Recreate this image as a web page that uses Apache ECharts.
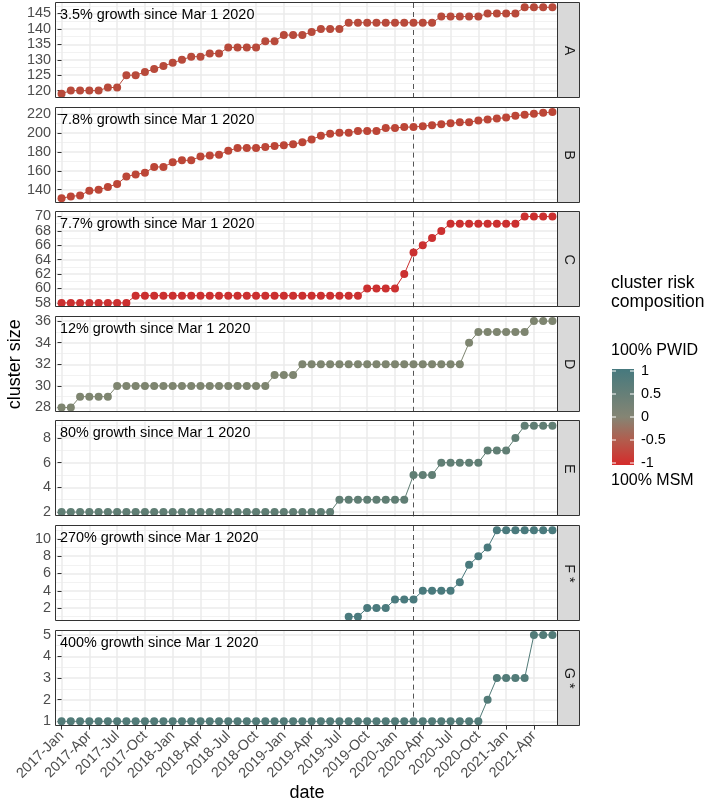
<!DOCTYPE html>
<html><head><meta charset="utf-8">
<script src="https://cdn.jsdelivr.net/npm/echarts@6/dist/echarts.min.js"></script>
<style>html,body{margin:0;padding:0;background:#fff}#c{width:708px;height:806px}</style>
</head><body><div id="c"></div>
<script>
// ---------------- DATA ----------------
const months = ['2017-Jan','2017-Feb','2017-Mar','2017-Apr','2017-May','2017-Jun','2017-Jul','2017-Aug','2017-Sep','2017-Oct','2017-Nov','2017-Dec',
'2018-Jan','2018-Feb','2018-Mar','2018-Apr','2018-May','2018-Jun','2018-Jul','2018-Aug','2018-Sep','2018-Oct','2018-Nov','2018-Dec',
'2019-Jan','2019-Feb','2019-Mar','2019-Apr','2019-May','2019-Jun','2019-Jul','2019-Aug','2019-Sep','2019-Oct','2019-Nov','2019-Dec',
'2020-Jan','2020-Feb','2020-Mar','2020-Apr','2020-May','2020-Jun','2020-Jul','2020-Aug','2020-Sep','2020-Oct','2020-Nov','2020-Dec',
'2021-Jan','2021-Feb','2021-Mar','2021-Apr','2021-May','2021-Jun'];
const xTickLabels = ['2017-Jan','2017-Apr','2017-Jul','2017-Oct','2018-Jan','2018-Apr','2018-Jul','2018-Oct','2019-Jan','2019-Apr','2019-Jul','2019-Oct','2020-Jan','2020-Apr','2020-Jul','2020-Oct','2021-Jan','2021-Apr'];
const referenceMonth = '2020-Mar';

const clusterA = [119,120,120,120,120,121,121,125,125,126,127,128,129,130,131,131,132,132,134,134,134,134,136,136,138,138,138,139,140,140,140,142,142,
142,142,142,142,142,142,142,142,144,144,144,144,144,145,145,145,145,147,147,147,147];
const clusterB = [131,133,134,139,140,143,146,154,156,158,164,164,169,171,171,175,176,177,181,184,184,184,185,186,187,188,190,193,197,199,200,200,202,
202,202,205,205,206,206,207,208,209,210,211,211,213,214,215,216,218,219,220,221,222];
const clusterC = [58,58,58,58,58,58,58,58,59,59,59,59,59,59,59,59,59,59,59,59,59,59,59,59,59,59,59,59,59,59,59,59,59,
60,60,60,60,62,65,66,67,68,69,69,69,69,69,69,69,69,70,70,70,70];
const clusterD = [28,28,29,29,29,29,30,30,30,30,30,30,30,30,30,30,30,30,30,30,30,30,30,31,31,31,32,32,32,32,32,32,32,
32,32,32,32,32,32,32,32,32,32,32,34,35,35,35,35,35,35,36,36,36];
const clusterE = [2,2,2,2,2,2,2,2,2,2,2,2,2,2,2,2,2,2,2,2,2,2,2,2,2,2,2,2,2,2,3,3,3,
3,3,3,3,3,5,5,5,6,6,6,6,6,7,7,7,8,9,9,9,9];
const clusterF = [null,null,null,null,null,null,null,null,null,null,null,null,null,null,null,null,null,null,null,null,null,null,null,null,null,null,null,null,null,null,null,1,1,
2,2,2,3,3,3,4,4,4,4,5,7,8,9,11,11,11,11,11,11,11];
const clusterG = [1,1,1,1,1,1,1,1,1,1,1,1,1,1,1,1,1,1,1,1,1,1,1,1,1,1,1,1,1,1,1,1,1,
1,1,1,1,1,1,1,1,1,1,1,1,1,2,3,3,3,3,5,5,5];

const panelNames = ['A','B','C','D','E','F *','G *'];
const growthText = ['3.5% growth since Mar 1 2020','7.8% growth since Mar 1 2020','7.7% growth since Mar 1 2020',
  '12% growth since Mar 1 2020','80% growth since Mar 1 2020','270% growth since Mar 1 2020','400% growth since Mar 1 2020'];
const yTicksA = [120,125,130,135,140,145];
const yTicksB = [140,160,180,200,220];
const yTicksC = [58,60,62,64,66,68,70];
const yTicksD = [28,30,32,34,36];
const yTicksE = [2,4,6,8];
const yTicksF = [2,4,6,8,10];
const yTicksG = [1,2,3,4,5];
const legendTicks = [1,0.5,0,-0.5,-1];
const legendTickLabels = ['1','0.5','0','-0.5','-1'];

// ---------------- STYLE / LAYOUT ----------------
const seriesColors = ['#B84A3B','#BC4637','#CB3030','#7E8570','#607E74','#4A7A7D','#527B78'];
const FONT = '"Liberation Sans", Arial, sans-serif';
const plotLeft = 56, plotRight = 558, stripW = 22;
const top0 = 3, pitch = 104.6, ph = 95;
const N = 7;

const allSeries = [clusterA,clusterB,clusterC,clusterD,clusterE,clusterF,clusterG];
const allTicks = [yTicksA,yTicksB,yTicksC,yTicksD,yTicksE,yTicksF,yTicksG];
const xTickIdx = xTickLabels.map(l => months.indexOf(l));
const refIdx = months.indexOf(referenceMonth);
const xMin = -0.6, xMax = months.length - 1 + 0.6;

const grids = [], xAxes = [], yAxes = [], series = [], titles = [], graphics = [];
const minorGrids = [], minorX = [], minorY = [];
allSeries.forEach((arr, i) => {
  const top = top0 + i * pitch;
  const vals = arr.filter(v => v != null);
  const lo = Math.min(...vals), hi = Math.max(...vals), pad = (hi - lo) * 0.05;
  const yMin = lo - pad, yMax = hi + pad;
  const ticks = allTicks[i];
  const step = ticks[1] - ticks[0];
  const minor = ticks.map(v => v - step / 2).concat([ticks[ticks.length - 1] + step / 2]).filter(v => v > yMin && v < yMax);
  const gbox = {left: plotLeft, top: top, width: plotRight - plotLeft, height: ph};
  grids.push(Object.assign({show: false}, gbox));
  minorGrids.push(Object.assign({show: false}, gbox));
  const bottom = i === N - 1;
  xAxes.push({type: 'value', gridIndex: i, min: xMin, max: xMax,
    axisLine: {show: false},
    axisTick: {show: bottom, customValues: xTickIdx, length: 4, lineStyle: {color: '#333333', width: 1}},
    axisLabel: {show: bottom, customValues: xTickIdx, rotate: 45, margin: 8, fontSize: 14.4, color: '#4D4D4D', fontFamily: FONT,
      formatter: v => months[Math.round(v)]},
    splitLine: {show: true, lineStyle: {color: '#EBEBEB', width: 1.5}}});
  yAxes.push({type: 'value', gridIndex: i, min: yMin, max: yMax,
    axisLine: {show: false},
    axisTick: {show: true, customValues: ticks, length: 4, lineStyle: {color: '#333333', width: 1}},
    axisLabel: {show: true, customValues: ticks, margin: 5, fontSize: 14.4, color: '#4D4D4D', fontFamily: FONT},
    splitLine: {show: true, lineStyle: {color: '#EBEBEB', width: 1.5}}});
  minorX.push({type: 'value', gridIndex: N + i, min: xMin, max: xMax, show: false});
  minorY.push({type: 'value', gridIndex: N + i, min: yMin, max: yMax,
    axisLine: {show: false},
    axisTick: {show: false, customValues: minor},
    axisLabel: {show: false, customValues: minor},
    splitLine: {show: true, lineStyle: {color: '#EFEFEF', width: 0.8}}});
  // reference (Mar 1 2020) dashed vertical line, spanning the panel's y range
  series.push({type: 'line', xAxisIndex: i, yAxisIndex: i, z: 1,
    data: [[refIdx, yMin], [refIdx, yMax]], symbol: 'none', silent: true, animation: false,
    lineStyle: {type: [5, 4], color: '#555555', width: 1}});
  series.push({type: 'line', xAxisIndex: i, yAxisIndex: i, z: 3,
    data: arr.map((v, k) => [k, v]).filter(p => p[1] != null),
    symbol: 'circle', symbolSize: 8, showSymbol: true,
    itemStyle: {color: seriesColors[i]},
    lineStyle: {color: seriesColors[i], width: 1},
    animation: false, silent: true});
  titles.push({text: growthText[i], left: 60, top: top + 5, padding: 0,
    textStyle: {fontSize: 14.4, fontWeight: 'normal', color: '#000000', fontFamily: FONT}});
  // crisp panel border and strip drawn above the grid lines
  const y0 = Math.round(top) - 0.5, y1 = Math.round(top + ph) - 0.5;
  const x0 = Math.round(plotLeft) - 0.5, x1 = Math.round(plotRight) - 0.5;
  graphics.push({type: 'rect', z: 50, shape: {x: x1, y: y0, width: stripW, height: y1 - y0},
    style: {fill: '#D9D9D9', stroke: '#333333', lineWidth: 1}});
  graphics.push({type: 'rect', z: 50, shape: {x: x0, y: y0, width: x1 - x0, height: y1 - y0},
    style: {fill: null, stroke: '#333333', lineWidth: 1}});
  graphics.push({type: 'text', z: 51, x: plotRight + stripW / 2, y: top + ph / 2, rotation: -Math.PI / 2,
    style: {text: panelNames[i], align: 'center', verticalAlign: 'middle', fontSize: 14.4, fontFamily: FONT, fill: '#1A1A1A'}});
});

// axis titles
const lastBottom = top0 + (N - 1) * pitch + ph;
graphics.push({type: 'text', x: 15, y: (top0 + lastBottom) / 2, rotation: Math.PI / 2,
  style: {text: 'cluster size', align: 'center', verticalAlign: 'middle', fontSize: 18, fontFamily: FONT, fill: '#000'}});
graphics.push({type: 'text', x: (plotLeft + plotRight) / 2, y: 793,
  style: {text: 'date', align: 'center', verticalAlign: 'middle', fontSize: 18, fontFamily: FONT, fill: '#000'}});

// colour legend
const lgX = 611, barX = 612, barY = 369, barW = 22, barH = 96;
graphics.push({type: 'text', x: lgX, y: 283, style: {text: 'cluster risk', verticalAlign: 'middle', fontSize: 17.5, fontFamily: FONT, fill: '#000'}});
graphics.push({type: 'text', x: lgX, y: 302, style: {text: 'composition', verticalAlign: 'middle', fontSize: 17.5, fontFamily: FONT, fill: '#000'}});
graphics.push({type: 'text', x: lgX, y: 351, style: {text: '100% PWID', verticalAlign: 'middle', fontSize: 16, fontFamily: FONT, fill: '#000'}});
graphics.push({type: 'text', x: lgX, y: 481, style: {text: '100% MSM', verticalAlign: 'middle', fontSize: 16, fontFamily: FONT, fill: '#000'}});
graphics.push({type: 'rect', shape: {x: barX, y: barY, width: barW, height: barH},
  style: {fill: new echarts.graphic.LinearGradient(0, 0, 0, 1, [
    {offset: 0, color: '#46797E'}, {offset: 0.25, color: '#657F78'}, {offset: 0.5, color: '#858574'},
    {offset: 0.75, color: '#B35B4C'}, {offset: 1, color: '#D52B2B'}])}});
legendTicks.forEach((v, k) => {
  const y = barY + 2 + (1 - v) / 2 * (barH - 4);
  graphics.push({type: 'line', shape: {x1: barX, y1: y, x2: barX + 4, y2: y}, style: {stroke: '#fff', lineWidth: 1}});
  graphics.push({type: 'line', shape: {x1: barX + barW - 4, y1: y, x2: barX + barW, y2: y}, style: {stroke: '#fff', lineWidth: 1}});
  graphics.push({type: 'text', x: barX + barW + 7, y: y, style: {text: legendTickLabels[k], verticalAlign: 'middle', fontSize: 14.4, fontFamily: FONT, fill: '#000'}});
});

const chart = echarts.init(document.getElementById('c'), null, {renderer: 'canvas'});
chart.setOption({animation: false, backgroundColor: '#ffffff', title: titles,
  grid: grids.concat(minorGrids), xAxis: xAxes.concat(minorX), yAxis: yAxes.concat(minorY),
  series: series, graphic: graphics});
</script></body></html>
